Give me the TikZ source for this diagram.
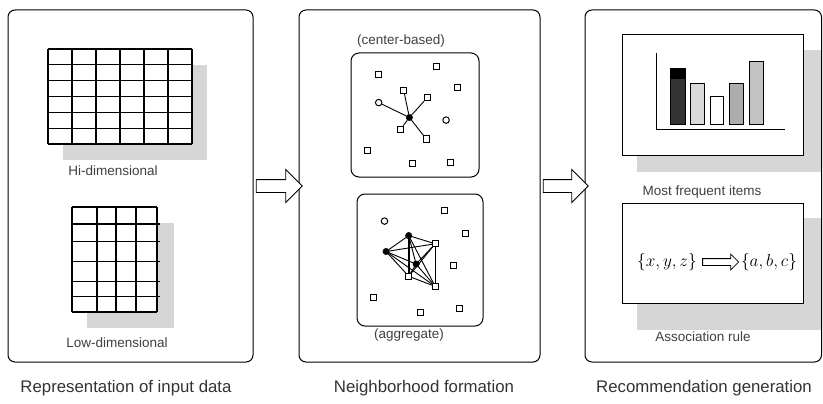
\documentclass[tikz,border=0pt]{standalone}
\usepackage{fontspec}
\setmainfont{Liberation Sans}
\usetikzlibrary{shapes.arrows,calc}
\definecolor{shadowgray}{gray}{0.84}
\definecolor{inkgray}{gray}{0.2}
\begin{document}
\begin{tikzpicture}[x=1pt,y=-1pt,
  panel/.style={draw, line width=1pt, rounded corners=7pt, inner sep=0pt},
  subpanel/.style={draw, line width=1pt, rounded corners=8pt, inner sep=0pt},
  plainbox/.style={draw, line width=1pt, fill=white, inner sep=0pt},
  bigarrow/.style={single arrow, draw, line width=0.9pt, fill=white, inner xsep=0pt, inner ysep=6pt, single arrow head extend=10pt},
  smallarrow/.style={single arrow, draw, line width=0.8pt, inner xsep=0pt, inner ysep=3pt, single arrow head extend=4.5pt},
  caption/.style={font=\fontsize{16.8}{20}\selectfont, text=inkgray, inner sep=0pt},
  lbl/.style={font=\fontsize{13.5}{16}\selectfont, text=black!75, inner sep=0pt},
  gridline/.style={line width=1.3pt},
  sq/.style={draw, fill=white, rectangle, minimum size=6pt, inner sep=0pt, line width=1pt},
  ci/.style={draw, fill=white, circle, minimum size=6.5pt, inner sep=0pt, line width=1pt},
  ctr/.style={draw, fill=black, circle, minimum size=6.5pt, inner sep=0pt},
  edge/.style={line width=0.9pt},
]
\useasboundingbox (0,0) rectangle (823,404);

% ---------- panels ----------
\node[panel, minimum width=245pt, minimum height=352pt] (p1) at (130.5,186) {};
\node[panel, minimum width=241pt, minimum height=352pt] (p2) at (419.5,186) {};
\node[panel, minimum width=236.5pt, minimum height=352pt] (p3) at (703.25,186) {};

\node[bigarrow, minimum height=46pt] (a1) at ($(p1.east)!0.5!(p2.west)$) {};
\node[bigarrow, minimum height=45pt] (a2) at ($(p2.east)!0.5!(p3.west)$) {};

\node[caption] (c1) at (126,388) {Representation of input data};
\node[caption] (c2) at (424,388) {Neighborhood formation};
\node[caption] (c3) at (704,388) {Recommendation generation};

% ---------- panel 1: grids ----------
\fill[shadowgray] (63,65) rectangle (207,160);
\fill[white] (48,49) rectangle (192,144);
\foreach \i in {0,...,6} {
  \draw[gridline] (48+24*\i,49) -- (48+24*\i,144);
  \draw[gridline] (48,49+95/6*\i) -- (192,49+95/6*\i);
}
\node[lbl] (hi) at (113,171) {Hi-dimensional};

\fill[shadowgray] (87,223) rectangle (174,328);
\fill[white] (72,207) rectangle (157,312);
\foreach \xx in {72,97,116,136,157} {
  \draw[gridline] (\xx,207) -- (\xx,312);
}
\draw[gridline] (72,207) -- (157,207);
\foreach \yy in {224,241.7,261.7,281.7,296.7} {
  \draw[gridline] (72,\yy) -- (160,\yy);
}
\draw[gridline] (72,312) -- (157,312);
\node[lbl] (lo) at (117,343) {Low-dimensional};

% ---------- panel 2: neighborhoods ----------
\node[subpanel, minimum width=128pt, minimum height=124pt] (b1) at (415,115) {};
\node[lbl, anchor=west] (cb) at (357,41) {(center-based)};

\node[ctr] (k0) at (409.4,117.5) {};
\node[sq] (k1) at (403.7,90.4) {};
\node[sq] (k2) at (427.3,97.6) {};
\node[ci] (k3) at (378.7,102.6) {};
\node[sq] (k4) at (400.6,129.1) {};
\node[sq] (k5) at (426.3,139) {};
\foreach \k in {k1,k2,k3,k4,k5} \draw[edge] (k0) -- (\k);
\node[sq] (m1) at (378.7,74.5) {};
\node[sq] (m2) at (436.7,66.2) {};
\node[sq] (m3) at (457,87.7) {};
\node[ci] (m4) at (446.1,120.1) {};
\node[sq] (m5) at (367.7,150.6) {};
\node[sq] (m6) at (412.5,163.8) {};
\node[sq] (m7) at (450.8,162.1) {};

\node[subpanel, minimum width=126pt, minimum height=132pt] (b2) at (420,260) {};
\node[lbl] (ag) at (409,335) {(aggregate)};

\coordinate (gT) at (408.7,235.6);
\coordinate (gR1) at (435.2,243.8);
\coordinate (gL) at (386.1,251.5);
\coordinate (gC) at (416.1,264.1);
\coordinate (gB) at (408.7,276.3);
\coordinate (gR2) at (435.2,286.4);
\foreach \a/\b in {gT/gR1,gT/gL,gT/gC,gT/gR2,gR1/gL,gR1/gC,gR1/gB,gR1/gR2,gL/gC,gL/gB,gL/gR2,gC/gB,gC/gR2,gB/gR2}
  \draw[edge] (\a) -- (\b);
\draw[line width=1.8pt] (gT) -- (gB);
\node[ctr] (nT) at (gT) {};
\node[sq] (nR1) at (gR1) {};
\node[ctr] (nL) at (gL) {};
\node[ctr] (nC) at (gC) {};
\node[sq] (nB) at (gB) {};
\node[sq] (nR2) at (gR2) {};
\node[ci] (q1) at (384.5,221.1) {};
\node[sq] (q2) at (444.2,210.9) {};
\node[sq] (q3) at (465.2,233.6) {};
\node[sq] (q4) at (453.9,265.1) {};
\node[sq] (q5) at (373.2,297.2) {};
\node[sq] (q6) at (420,312.5) {};
\node[sq] (q7) at (459.4,308.1) {};

% ---------- panel 3 ----------
\fill[shadowgray] (637,50) rectangle (821,172);
\node[plainbox, minimum width=181pt, minimum height=120pt] (t1) at (712.5,95) {};
\draw[line width=1pt] (656,53) -- (656,130) -- (785,130);
\fill[black!80] (670,69) rectangle (685,125);
\fill[black] (670,69) rectangle (685,79);
\draw[line width=1pt] (670,69) rectangle (685,125);
\draw[line width=1pt, fill=gray!30] (690,84) rectangle (704,125);
\draw[line width=1pt, fill=white] (710,97) rectangle (723,125);
\draw[line width=1pt, fill=gray!65] (729,84) rectangle (743,125);
\draw[line width=1pt, fill=gray!48] (749,62) rectangle (763,125);
\node[lbl] (mf) at (702,192) {Most frequent items};

\fill[shadowgray] (637,218) rectangle (821,330);
\node[plainbox, minimum width=181pt, minimum height=100pt] (t2) at (712.5,253) {};
\node[inner sep=0pt, font=\fontsize{17}{20}\selectfont] (fl) at (667,262) {$\{x, y, z\}$};
\node[inner sep=0pt, font=\fontsize{17}{20}\selectfont] (fr) at (769,262) {$\{a,b,c\}$};
\node[smallarrow, minimum height=36pt] (fa) at ($(fl.east)!0.5!(fr.west)$) {};
\node[lbl] (ar) at (703,337) {Association rule};
\end{tikzpicture}
\end{document}
